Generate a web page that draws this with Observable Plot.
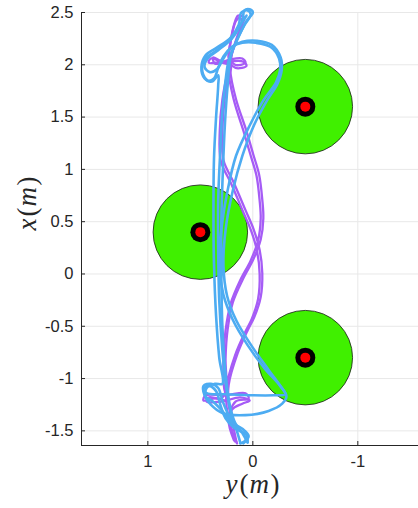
<!DOCTYPE html>
<html><head><meta charset="utf-8">
<script src="https://cdn.jsdelivr.net/npm/d3@7"></script>
<script src="https://cdn.jsdelivr.net/npm/@observablehq/plot@0.6"></script>
<style>html,body{margin:0;padding:0;background:#fff;} #chart svg{display:block}</style>
</head><body><div id="chart"></div>
<script>
// ---- data (y(m) horizontal, x(m) vertical) ----
const xTickValues = [1, 0, -1];
const yTickValues = [-1.5, -1, -0.5, 0, 0.5, 1, 1.5, 2, 2.5];
const obstacleY = [-0.5, 0.5, -0.5];
const obstacleX = [1.6, 0.4, -0.8];
const obstacleRadius = 0.45;

const purpleRun1 = [
  [0.155,-1.61],[0.19,-1.44],[0.23,-1.25],[0.23,-1.06],[0.145,-0.76],[0.05,-0.54],[-0.015,-0.41],[-0.075,-0.22],[-0.09,0.01],[-0.065,0.23],[-0.01,0.42],[0.07,0.61],[0.18,0.87],[0.28,1.09],[0.29,1.37],[0.27,1.66],[0.24,1.85],[0.21,1.99],
  [0.29,2.02],[0.40,2.06],[0.42,2.02],[0.26,2.03],[0.09,2.03],[0.06,1.99],[0.165,1.97],[0.23,2.06],[0.21,2.23],[0.18,2.38],[0.14,2.47],[0.08,2.45],[0.12,2.35],[0.19,2.14],
  [0.23,1.95],[0.18,1.66],[0.09,1.37],[0.02,1.13],[-0.035,0.94],[-0.065,0.70],[-0.075,0.53],[-0.05,0.32],[0.02,0.13],[0.12,-0.06],[0.21,-0.28],[0.26,-0.54],[0.28,-0.82],[0.27,-1.11],
  [0.23,-1.21],[0.355,-1.19],[0.47,-1.21],[0.45,-1.16],[0.26,-1.16],[0.07,-1.14],[0.04,-1.19],[0.165,-1.22],[0.23,-1.40],[0.18,-1.59]
];
const purpleRun2 = [
  [0.17,-1.60],[0.21,-1.45],[0.25,-1.27],[0.25,-1.08],[0.17,-0.78],[0.075,-0.56],[0.01,-0.43],[-0.05,-0.24],[-0.065,0.0],[-0.04,0.22],[0.015,0.41],[0.095,0.60],[0.205,0.86],[0.305,1.08],[0.315,1.37],[0.29,1.67],[0.255,1.86],[0.22,2.0],
  [0.31,2.04],[0.38,2.07],[0.36,2.01],[0.22,2.05],[0.10,2.06],[0.07,2.02],[0.17,2.0],[0.22,2.1],[0.2,2.28],[0.16,2.42],[0.12,2.45],[0.10,2.38],[0.15,2.25],[0.2,2.1],
  [0.215,1.95],[0.16,1.67],[0.065,1.38],[-0.005,1.14],[-0.06,0.95],[-0.09,0.71],[-0.1,0.53],[-0.075,0.33],[-0.005,0.14],[0.095,-0.05],[0.19,-0.27],[0.24,-0.53],[0.26,-0.81],[0.255,-1.10],
  [0.30,-1.19],[0.42,-1.18],[0.44,-1.22],[0.3,-1.22],[0.12,-1.18],[0.03,-1.21],[0.1,-1.24],[0.2,-1.3],[0.21,-1.45],[0.15,-1.62]
];
const blueRun1 = [
  [0.12,-1.61],[0.155,-1.49],[0.21,-1.32],[0.25,-1.11],[0.29,-0.73],[0.32,-0.25],[0.33,0.23],[0.33,0.70],[0.31,1.18],[0.29,1.56],[0.26,1.85],[0.23,2.04],[0.155,2.23],[0.08,2.38],[0.02,2.48],[0.05,2.52],[0.11,2.50],[0.135,2.38],[0.23,2.23],[0.37,2.12],[0.46,2.05],[0.48,1.93],[0.43,1.85],[0.37,1.87],[0.33,1.97],[0.28,2.08],[0.20,2.17],[0.10,2.21],[-0.03,2.21],[-0.17,2.17],[-0.25,2.06],[-0.26,1.95],[-0.22,1.83],[-0.10,1.66],[0.03,1.42],[0.16,1.13],[0.24,0.80],[0.30,0.42],[0.32,0.08],[0.28,-0.20],[0.19,-0.44],[0.05,-0.68],[-0.11,-0.90],[-0.26,-1.07],[-0.32,-1.17],[-0.28,-1.24],[-0.15,-1.31],[0.07,-1.35],[0.29,-1.33],[0.40,-1.25],[0.46,-1.16],[0.47,-1.07],[0.40,-1.05],[0.33,-1.09],[0.29,-1.21],[0.23,-1.35],[0.155,-1.47],[0.06,-1.54],[0.05,-1.61]
];
const blueRun2 = [
  [0.05,-1.61],[0.10,-1.52],[0.17,-1.42],[0.22,-1.25],[0.26,-0.95],[0.29,-0.50],[0.30,0.0],[0.30,0.50],[0.285,1.0],[0.265,1.45],[0.24,1.80],[0.21,2.08],[0.13,2.28],[0.06,2.42],[0.0,2.50],[0.03,2.53],[0.08,2.52],[0.1,2.42],[0.2,2.25],[0.33,2.14],[0.43,2.06],[0.46,1.98],[0.41,1.93],[0.34,1.96],[0.28,2.06],[0.2,2.17],[0.1,2.22],[-0.04,2.23],[-0.18,2.19],[-0.265,2.07],[-0.275,1.95],[-0.235,1.82],[-0.13,1.65],[-0.01,1.42],[0.10,1.13],[0.19,0.80],[0.26,0.42],[0.28,0.08],[0.245,-0.21],[0.155,-0.45],[0.01,-0.69],[-0.145,-0.91],[-0.27,-1.08],[-0.31,-1.15],[-0.2,-1.16],[0.0,-1.16],[0.25,-1.15],[0.44,-1.14],[0.47,-1.10],[0.42,-1.07],[0.35,-1.12],[0.31,-1.25],[0.26,-1.38],[0.18,-1.47],[0.1,-1.52],[0.07,-1.59],[0.12,-1.62]
];
const blueRun3 = [
  [0.06,2.47],[0.12,2.38],[0.22,2.25],[0.35,2.16],[0.45,2.09],[0.49,1.98],[0.46,1.87],[0.39,1.84],[0.33,1.90],[0.33,1.80],[0.35,1.50],[0.37,1.10],[0.375,0.60],[0.37,0.10],[0.35,-0.40],[0.32,-0.80],[0.29,-1.05],[0.36,-1.05],[0.44,-1.09],[0.45,-1.17],[0.38,-1.22],[0.30,-1.30],[0.2,-1.42],[0.1,-1.48],[0.04,-1.55],[0.09,-1.62]
];

// ---- layout ----
const W = 418, H = 508, mL = 81, mR = 0, mT = 12, mB = 63;
const xDom = [1.632, -1.578], yDom = [-1.64, 2.5];
const ppu = (W - mL - mR) / (xDom[0] - xDom[1]);

const obstacles = obstacleY.map((y, i) => ({ym: y, xm: obstacleX[i]}));
const rows = (run, id) => run.map(([ym, xm]) => ({ym, xm, id}));
const purple = [...rows(purpleRun1, "p1"), ...rows(purpleRun2, "p2")];
const blue = [...rows(blueRun1, "b1"), ...rows(blueRun2, "b2"), ...rows(blueRun3, "b3")];
const lineOpts = {x: "ym", y: "xm", z: "id", curve: "catmull-rom", strokeLinejoin: "round", strokeLinecap: "round"};
const fmt = d => String(d);
const mathFont = {fontFamily: "Liberation Serif, serif", fontStyle: "italic", fontSize: 27, fill: "#262626"};

const plot = Plot.plot({
  width: W, height: H,
  marginLeft: mL, marginRight: mR, marginTop: mT, marginBottom: mB,
  x: {domain: xDom},
  y: {domain: yDom},
  style: {fontFamily: "Liberation Sans, Arial, sans-serif", fontSize: "16px", color: "#262626", background: "#fff"},
  marks: [
    Plot.gridX(xTickValues, {stroke: "#e8e8e8", strokeOpacity: 1}),
    Plot.gridY(yTickValues, {stroke: "#e8e8e8", strokeOpacity: 1}),
    Plot.dot(obstacles, {x: "ym", y: "xm", r: obstacleRadius * ppu, fill: "#40f000", stroke: "#1a1a1a", strokeWidth: 0.8}),
    Plot.line(purple, {...lineOpts, stroke: "#a65cf6", strokeWidth: 2.3}),
    Plot.line(blue, {...lineOpts, stroke: "#4dacf2", strokeWidth: 2.6}),
    Plot.dot(obstacles, {x: "ym", y: "xm", r: 10, fill: "#000"}),
    Plot.dot(obstacles, {x: "ym", y: "xm", r: 5, fill: "#ff0000"}),
    Plot.ruleY([yDom[0]], {stroke: "#262626", strokeWidth: 1}),
    Plot.ruleX([xDom[0]], {stroke: "#262626", strokeWidth: 1}),
    Plot.axisX(xTickValues, {tickSize: 4, dy: -4, tickFormat: () => "", label: null}),
    Plot.axisY(yTickValues, {tickSize: 4, dx: 4, tickFormat: () => "", label: null}),
    Plot.axisX(xTickValues, {tickSize: 0, tickPadding: 10, tickFormat: fmt, label: null, fontSize: 16.5}),
    Plot.axisY(yTickValues, {tickSize: 0, tickPadding: 8, tickFormat: fmt, label: null, fontSize: 16.5}),
    Plot.text(["y(m)"], {frameAnchor: "bottom", dy: 47, dx: 2.5, ...mathFont}),
    Plot.text(["x(m)"], {frameAnchor: "left", dx: -54, dy: 1.5, rotate: -90, ...mathFont})
  ]
});
document.getElementById("chart").appendChild(plot);

// upright parentheses as in LaTeX math
d3.select(plot).selectAll("text").each(function() {
  const t = this.textContent;
  if (t === "y(m)" || t === "x(m)") {
    const el = d3.select(this).text(null);
    [[t[0], "italic", 0], ["(", "normal", 2], ["m", "italic", 1], [")", "normal", 1.5]].forEach(([s, st, dx]) => {
      el.append("tspan").attr("font-style", st).attr("dx", dx).text(s);
    });
  }
});
</script></body></html>
